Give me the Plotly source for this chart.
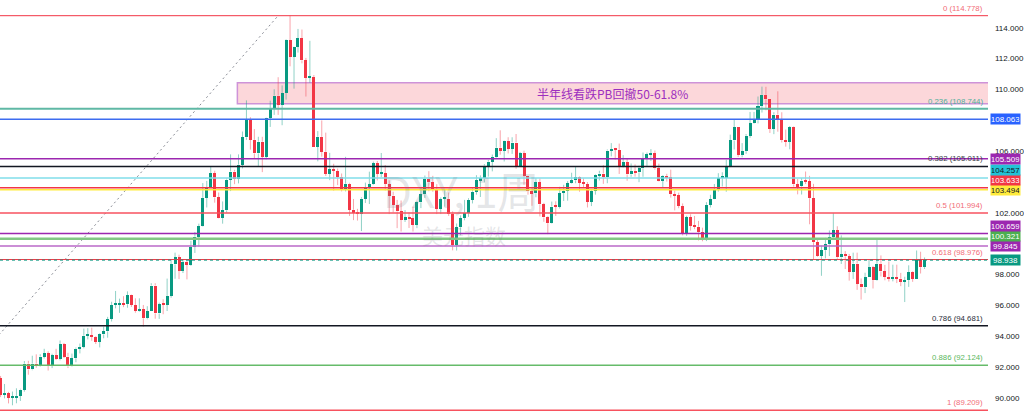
import plotly.graph_objects as go
import pandas as pd

# ---------------- data (weekly DXY candles) ----------------
first_week = "2021-05-03"

opens = [
    # 2021
    91.28, 90.22, 90.32, 90.02, 90.03, 90.14, 90.55, 92.23, 91.85, 92.23, 92.13, 92.69, 92.90, 92.17, 92.78, 92.52, 93.50, 92.68,
    92.05, 92.58, 93.20, 93.31, 94.04, 94.08, 93.96, 93.64, 94.12, 94.32, 95.12, 96.03, 96.09, 96.16, 96.08, 96.65, 96.03,
    # 2022
    95.67, 95.75, 95.17, 95.63, 97.29, 95.48, 96.08, 96.03, 96.62, 98.66, 99.12, 98.23, 98.79, 98.63, 99.79, 100.46, 101.12, 102.97,
    103.66, 104.56, 103.00, 101.66, 102.16, 104.15, 104.68, 104.19, 105.13, 106.89, 108.07, 106.73, 105.85, 106.61, 105.64, 108.16,
    108.80, 109.60, 109.00, 109.76, 113.19, 112.12, 112.75, 113.31, 111.88, 110.76, 110.81, 106.30, 106.93, 105.96, 104.55, 104.84,
    104.71, 104.33,
    # 2023
    103.52, 103.89, 102.20, 101.99, 101.93, 102.92, 103.63, 103.87, 105.21, 104.52, 104.58, 103.86, 103.12, 102.51, 102.09, 101.55,
    101.72, 101.66, 101.22, 102.68, 103.20, 104.21, 103.97, 103.55, 102.27, 102.90, 102.91, 101.95, 99.91, 101.07, 101.66, 102.02,
    102.84, 103.37, 104.11, 104.23, 105.06, 105.32, 105.59, 106.22, 106.04, 106.65, 106.16, 106.56, 105.02, 105.86, 104.38, 103.39,
    103.27, 104.00, 102.55, 101.70,
    # 2024
    101.33, 102.41, 102.39, 103.29, 103.44, 103.92, 104.11, 104.30, 103.94, 103.87, 102.71, 103.43, 104.43, 104.55, 104.30, 106.04,
    106.13, 106.09, 105.03, 105.30, 104.49, 104.72, 104.62, 104.89, 105.55, 105.80, 105.87, 104.88, 104.09, 104.40, 104.32, 103.21,
    103.14, 102.45, 100.72, 101.70, 101.18, 101.10, 100.73, 100.38, 102.52, 102.89, 103.49, 104.26, 104.28, 104.95, 106.69, 107.55,
    105.74, 105.99, 107.00, 107.80, 108.00,
    # 2025
    108.92, 109.65, 109.35, 107.44, 108.37, 108.05, 106.71, 106.62, 107.56, 103.84, 103.72, 104.09, 104.04, 102.95, 100.10, 99.23,
    99.58, 99.96, 100.42, 100.88, 99.11, 99.33, 99.19, 98.18, 98.71, 97.40, 97.17, 97.85, 98.46, 97.64, 98.70, 98.20,
    97.85, 97.72, 97.77, 97.73, 97.55, 97.64, 98.15, 97.72, 98.98, 98.48,
]

highs = [
    # 2021
    91.43, 90.91, 90.40, 90.42, 90.63, 90.60, 92.40, 92.41, 92.74, 92.83, 92.84, 93.19, 93.03, 92.87, 93.19, 93.73, 93.57, 92.93,
    92.88, 93.27, 93.53, 94.50, 94.53, 94.56, 94.01, 94.19, 94.63, 95.26, 96.24, 96.94, 96.44, 96.60, 96.91, 96.70, 96.46,
    # 2022
    96.46, 96.03, 95.95, 97.44, 97.44, 96.18, 96.40, 97.74, 98.94, 99.42, 99.29, 99.01, 98.93, 100.19, 100.76, 101.30, 103.93, 104.07,
    105.01, 104.73, 103.32, 102.74, 104.24, 105.79, 104.79, 105.79, 107.27, 109.29, 108.20, 107.43, 106.93, 106.93, 108.18, 109.27,
    110.01, 110.79, 110.26, 113.24, 114.78, 112.77, 113.92, 113.88, 112.04, 113.15, 110.93, 107.30, 107.99, 107.20, 105.89, 105.18,
    104.87, 104.55,
    # 2023
    105.63, 103.95, 102.90, 102.26, 103.01, 103.96, 104.67, 105.32, 105.36, 105.88, 105.10, 104.11, 103.37, 102.84, 102.80, 102.18,
    102.04, 102.40, 102.75, 103.63, 104.42, 104.70, 104.40, 103.86, 103.00, 103.54, 103.32, 102.10, 101.31, 101.84, 102.84, 102.95,
    103.59, 104.44, 104.43, 105.16, 105.43, 105.78, 106.84, 107.35, 106.68, 106.90, 106.90, 107.11, 105.95, 106.03, 104.40, 103.60,
    104.26, 104.23, 102.65, 101.78,
    # 2024
    102.73, 102.75, 103.69, 103.82, 104.06, 104.60, 104.97, 104.36, 104.23, 104.00, 103.50, 104.49, 104.73, 105.09, 106.11, 106.52,
    106.21, 106.49, 105.74, 105.51, 105.20, 105.14, 105.06, 105.91, 105.91, 106.13, 106.04, 105.19, 104.45, 104.53, 104.80, 103.44,
    103.31, 102.61, 101.81, 101.91, 101.80, 101.48, 101.04, 102.69, 103.17, 103.87, 104.57, 104.63, 105.44, 107.07, 108.07, 107.55,
    106.52, 107.11, 108.54, 108.54, 109.54,
    # 2025
    110.18, 110.17, 109.37, 108.52, 109.88, 108.52, 107.40, 107.62, 107.60, 104.20, 104.26, 104.68, 104.40, 103.88, 100.32, 99.88,
    100.38, 100.86, 101.98, 101.13, 100.54, 99.52, 99.34, 99.42, 99.42, 97.75, 98.12, 98.95, 98.56, 100.26, 99.24, 98.63,
    98.85, 98.64, 98.64, 98.11, 97.86, 98.60, 98.21, 99.56, 99.48, 99.11,
]

lows = [
    # 2021
    90.06, 89.98, 89.65, 89.53, 89.66, 89.81, 90.41, 91.51, 91.80, 91.96, 92.04, 92.56, 91.78, 91.94, 92.46, 92.44, 92.59, 91.94,
    92.02, 92.32, 92.89, 93.22, 93.80, 93.71, 93.50, 93.28, 93.87, 93.91, 94.96, 95.81, 95.52, 95.89, 95.85, 95.90, 95.53,
    # 2022
    95.60, 94.63, 95.10, 95.63, 95.14, 95.13, 95.43, 95.64, 96.50, 97.73, 97.71, 98.10, 97.69, 98.57, 99.40, 99.82, 101.09, 102.35,
    103.61, 102.66, 101.64, 101.30, 102.01, 103.41, 103.86, 103.91, 104.88, 106.73, 106.10, 105.49, 105.04, 104.64, 105.46, 107.57,
    108.35, 108.35, 107.68, 109.34, 111.50, 110.05, 112.39, 111.69, 109.54, 110.44, 106.27, 105.34, 105.64, 104.39, 104.12, 103.44,
    103.80, 103.39,
    # 2023
    103.39, 101.80, 101.53, 101.50, 100.82, 102.64, 102.57, 103.83, 104.10, 104.32, 103.45, 101.92, 102.03, 101.01, 100.79, 101.41,
    101.02, 100.79, 101.01, 102.31, 102.97, 103.40, 103.37, 101.92, 101.92, 102.40, 101.80, 99.57, 99.56, 100.55, 101.52, 101.74,
    102.61, 103.18, 103.03, 103.98, 104.35, 104.69, 105.53, 105.77, 105.33, 105.85, 105.82, 104.86, 104.98, 103.82, 103.18, 102.46,
    103.01, 101.77, 101.42, 100.62,
    # 2024
    101.30, 101.80, 102.28, 102.77, 102.79, 103.89, 103.92, 103.37, 103.67, 102.35, 102.44, 103.18, 104.10, 103.88, 103.92, 105.66,
    105.45, 104.52, 104.94, 104.08, 104.34, 104.35, 103.99, 104.34, 104.97, 105.36, 104.80, 104.04, 103.65, 104.03, 102.99, 102.16,
    102.30, 100.54, 100.51, 100.85, 100.94, 100.21, 100.16, 100.17, 102.35, 102.88, 103.38, 103.71, 103.37, 104.94, 106.11, 105.62,
    105.60, 105.83, 106.86, 107.77, 107.80,
    # 2025
    108.50, 108.65, 107.18, 107.10, 107.26, 106.56, 106.29, 106.12, 103.70, 103.20, 103.19, 103.87, 101.26, 99.01, 99.16, 97.92,
    99.05, 99.20, 100.24, 99.02, 98.69, 98.36, 97.61, 97.72, 97.01, 96.38, 96.80, 97.85, 97.10, 97.60, 97.88, 97.63,
    97.55, 97.56, 97.45, 97.25, 96.22, 97.20, 97.53, 97.72, 98.07, 98.36,
]

closes = [
    # 2021
    90.22, 90.32, 90.02, 90.03, 90.14, 90.55, 92.23, 91.85, 92.23, 92.13, 92.69, 92.90, 92.17, 92.78, 92.52, 93.50, 92.68, 92.05,
    92.58, 93.20, 93.31, 94.04, 94.08, 93.96, 93.64, 94.12, 94.32, 95.12, 96.03, 96.09, 96.16, 96.08, 96.65, 96.03, 95.67,
    # 2022
    95.75, 95.17, 95.63, 97.29, 95.48, 96.08, 96.03, 96.62, 98.66, 99.12, 98.23, 98.79, 98.63, 99.79, 100.46, 101.12, 102.97, 103.66,
    104.56, 103.00, 101.66, 102.16, 104.15, 104.68, 104.19, 105.13, 106.89, 108.07, 106.73, 105.85, 106.61, 105.64, 108.16, 108.80,
    109.60, 109.00, 109.76, 113.19, 112.12, 112.75, 113.31, 111.88, 110.76, 110.81, 106.30, 106.93, 105.96, 104.55, 104.84, 104.71,
    104.33, 103.52,
    # 2023
    103.89, 102.20, 101.99, 101.93, 102.92, 103.63, 103.87, 105.21, 104.52, 104.58, 103.86, 103.12, 102.51, 102.09, 101.55, 101.72,
    101.66, 101.22, 102.68, 103.20, 104.21, 103.97, 103.55, 102.27, 102.90, 102.91, 101.95, 99.91, 101.07, 101.66, 102.02, 102.84,
    103.37, 104.11, 104.23, 105.06, 105.32, 105.59, 106.22, 106.04, 106.65, 106.16, 106.56, 105.02, 105.86, 104.38, 103.39, 103.27,
    104.00, 102.55, 101.70, 101.33,
    # 2024
    102.41, 102.39, 103.29, 103.44, 103.92, 104.11, 104.30, 103.94, 103.87, 102.71, 103.43, 104.43, 104.55, 104.30, 106.04, 106.13,
    106.09, 105.03, 105.30, 104.49, 104.72, 104.62, 104.89, 105.55, 105.80, 105.87, 104.88, 104.09, 104.40, 104.32, 103.21, 103.14,
    102.45, 100.72, 101.70, 101.18, 101.10, 100.73, 100.38, 102.52, 102.89, 103.49, 104.26, 104.28, 104.95, 106.69, 107.55, 105.74,
    105.99, 107.00, 107.80, 108.00, 108.92,
    # 2025
    109.65, 109.35, 107.44, 108.37, 108.05, 106.71, 106.62, 107.56, 103.84, 103.72, 104.09, 104.04, 102.95, 100.10, 99.23, 99.58,
    99.96, 100.42, 100.88, 99.11, 99.33, 99.19, 98.18, 98.71, 97.40, 97.17, 97.85, 98.46, 97.64, 98.70, 98.20, 97.85,
    97.72, 97.77, 97.73, 97.55, 97.64, 98.15, 97.72, 98.98, 98.48, 98.938,
]

# Fibonacci retracement (low Jan 2021 -> high Sep 2022)
fib_ratios = ["0", "0.236", "0.382", "0.5", "0.618", "0.786", "0.886", "1"]
fib_prices = [114.778, 108.744, 105.011, 101.994, 98.976, 94.681, 92.124, 89.209]
fib_anchor_dates = ["2021-01-04", "2022-09-05"]
fib_anchor_prices = [89.209, 114.778]

# user horizontal lines with price labels on the axis
hline_prices = [108.063, 105.509, 104.257, 103.633, 103.494, 100.659, 100.321, 99.845]
last_price = 98.938

# resistance zone
zone_start = "2022-06-25"
zone_low = 109.075
zone_high = 110.435
zone_text = "半年线看跌PB回撤50-61.8%"

ytick_vals = [90, 92, 94, 96, 98, 102, 106, 110, 112, 114]
watermark_main = "DXY, 1周"
watermark_sub = "美元指数"

# ---------------- styles ----------------
W, H = 1024, 412
M_R = 32
PLOT_W = W - M_R
Y_RANGE = [89.094, 115.795]
X_RANGE = ["2021-05-02", "2026-02-09"]

UP, DOWN = "#089981", "#f23645"
UP_WICK, DOWN_WICK = "rgba(8,153,129,0.45)", "rgba(242,54,69,0.45)"

fib_line_colors = ["#f23645", "#5fb8a5", "#131722", "#f7525f", "#f23645", "#131722", "#66bb6a", "#f7525f"]
fib_line_widths = [1, 2, 1.5, 1.5, 1, 1.5, 1.5, 1.5]
fib_text_colors = ["#f26d77", "#4fae9a", "#3a3e49", "#f26d77", "#f26d77", "#2a2e39", "#5cb860", "#f26d77"]

hline_colors = ["#3d6cf0", "#9c27b0", "#80deea", "#f23645", "#ffeb3b", "#9c27b0", "#81c784", "#ba68c8"]
hline_widths = [1.5, 1.5, 1.5, 1.5, 1.5, 1.5, 2.5, 1.5]
hlabel_bg = ["#2962ff", "#9c27b0", "#22c3d6", "#f23645", "#ffeb3b", "#9c27b0", "#4caf50", "#9c27b0"]
hlabel_fg = ["#ffffff", "#ffffff", "#131722", "#ffffff", "#131722", "#ffffff", "#ffffff", "#ffffff"]

FONT = "Liberation Sans, Arial, sans-serif"
CJK = "Noto Sans CJK SC, sans-serif"

n = len(closes)
if not (len(opens) == len(highs) == len(lows) == n):
    raise ValueError(f"lengths {len(opens)} {len(highs)} {len(lows)} {n}")
dates = pd.date_range(first_week, periods=n, freq="W-MON")
if dates[-1] != pd.Timestamp("2025-10-20"):
    raise ValueError(f"last date {dates[-1]} n={n}")

fig = go.Figure()

# wicks (outside the body only)
for is_up, col in [(True, UP_WICK), (False, DOWN_WICK)]:
    xs, ys = [], []
    for d, o, h, l, c in zip(dates, opens, highs, lows, closes):
        if (c >= o) != is_up:
            continue
        top, bot = max(o, c), min(o, c)
        xs += [d, d, None, d, d, None]
        ys += [bot, l, None, top, h, None]
    fig.add_trace(go.Scatter(x=xs, y=ys, mode="lines", line=dict(color=col, width=1),
                             hoverinfo="skip", showlegend=False))

# bodies
body_base = [min(o, c) for o, c in zip(opens, closes)]
body_h = [max(abs(c - o), 0.07) for o, c in zip(opens, closes)]
body_col = [UP if c >= o else DOWN for o, c in zip(opens, closes)]
fig.add_trace(go.Bar(x=dates, y=body_h, base=body_base, width=5.3 * 86400000,
                     marker=dict(color=body_col, line=dict(width=0)), showlegend=False,
                     hoverinfo="skip"))

shapes = []
annotations = []

# resistance zone
shapes.append(dict(type="rect", xref="x", yref="y", x0=zone_start, x1="2026-12-31",
                   y0=zone_low, y1=zone_high, fillcolor="rgba(242,54,69,0.2)",
                   line=dict(color="#ce93d8", width=1.5), layer="below"))
annotations.append(dict(xref="paper", yref="y", x=(238 + PLOT_W) / 2 / PLOT_W,
                        y=(zone_low + zone_high) / 2, text=zone_text, showarrow=False,
                        font=dict(family=CJK, size=12, color="#9c2fbf")))

# fib trend line
shapes.append(dict(type="line", xref="x", yref="y", x0=fib_anchor_dates[0], y0=fib_anchor_prices[0],
                   x1=fib_anchor_dates[1], y1=fib_anchor_prices[1],
                   line=dict(color="#8a8d96", width=1, dash="2px,3px")))

# fib levels
for r, p, lc, lw, tc in zip(fib_ratios, fib_prices, fib_line_colors, fib_line_widths, fib_text_colors):
    shapes.append(dict(type="line", xref="paper", yref="y", x0=0, x1=1, y0=p, y1=p,
                       line=dict(color=lc, width=lw)))
    annotations.append(dict(xref="paper", yref="y", x=1, y=p, xanchor="right", yanchor="bottom",
                            xshift=-3, yshift=1, text=f"{r} ({p:.3f})", showarrow=False,
                            font=dict(family=FONT, size=7.8, color=tc)))

# user horizontal lines
for p, lc, lw in zip(hline_prices, hline_colors, hline_widths):
    shapes.append(dict(type="line", xref="paper", yref="y", x0=0, x1=1, y0=p, y1=p,
                       line=dict(color=lc, width=lw)))

# last price dotted line
shapes.append(dict(type="line", xref="paper", yref="y", x0=0, x1=1, y0=last_price, y1=last_price,
                   line=dict(color=UP, width=1, dash="dot")))

# axis price labels, stacked upward to avoid overlap (like the reference)
def ypix(v):
    return (Y_RANGE[1] - v) / (Y_RANGE[1] - Y_RANGE[0]) * H

label_items = list(zip(hline_prices, hlabel_bg, hlabel_fg)) + [(last_price, UP, "#ffffff")]
label_items.sort(key=lambda t: t[0])
BOX_H = 10
prev_top = None
for p, bg, fg in label_items:
    yc = ypix(p)
    if prev_top is not None and yc + BOX_H / 2 > prev_top:
        yc = prev_top - BOX_H / 2
    prev_top = yc - BOX_H / 2
    shift = ypix(p) - yc
    annotations.append(dict(xref="paper", yref="y", x=1, y=p, xanchor="left", yanchor="middle",
                            xshift=2, yshift=shift, text=f"{p:.3f}", showarrow=False,
                            bgcolor=bg, width=28, height=9, borderpad=0.5,
                            font=dict(family=FONT, size=8, color=fg)))

# watermark
annotations.append(dict(xref="paper", yref="paper", x=463 / PLOT_W, y=1 - 189 / H, text=watermark_main,
                        showarrow=False, font=dict(family=CJK, size=42, color="rgba(120,123,134,0.2)")))
annotations.append(dict(xref="paper", yref="paper", x=466 / PLOT_W, y=1 - 235 / H, text=watermark_sub,
                        showarrow=False, font=dict(family=CJK, size=21, color="rgba(120,123,134,0.2)")))

fig.update_layout(
    width=W, height=H,
    margin=dict(l=0, r=M_R, t=0, b=0),
    paper_bgcolor="white", plot_bgcolor="white",
    shapes=shapes, annotations=annotations,
    showlegend=False, bargap=0,
    xaxis=dict(type="date", range=X_RANGE, visible=False, showgrid=False, fixedrange=True),
    yaxis=dict(side="right", range=Y_RANGE, showgrid=False, zeroline=False, showline=False,
               tickmode="array", tickvals=ytick_vals, ticktext=[f"{v:.3f}" for v in ytick_vals],
               ticks="", ticklabelstandoff=6, tickfont=dict(family=FONT, size=8, color="#131722")),
)

fig.write_html(
    "out.html",
    config={"displayModeBar": False},
    post_script="document.body.style.margin='0px';document.body.style.overflow='hidden';",
)
